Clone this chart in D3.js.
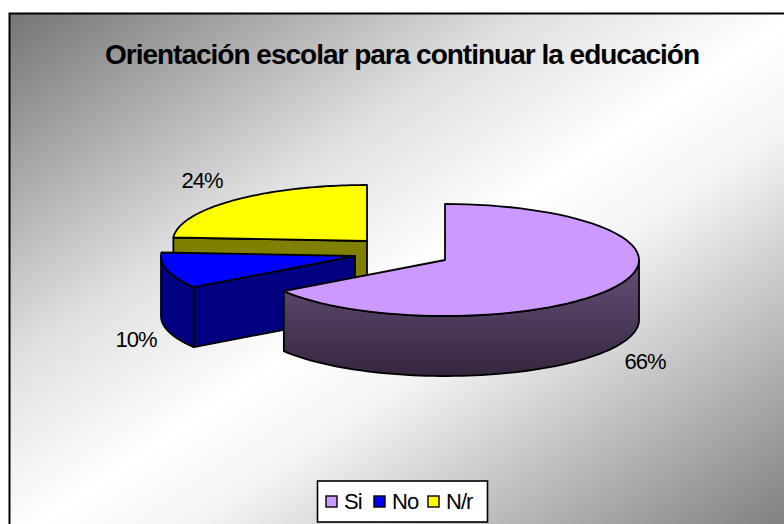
<!DOCTYPE html>
<html><head><meta charset="utf-8"><style>html,body{margin:0;padding:0;background:#fff}svg{display:block}text{font-family:"Liberation Sans",Arial,sans-serif;fill:#000}</style>
<script src="https://cdn.jsdelivr.net/npm/d3@7"></script></head><body><svg id="c" width="784" height="524"></svg>
<script>
const categories=["Si","No","N/r"];
const values=[65.6,10.4,24];
const labels=["66%","10%","24%"];
const topColors=["#CC99FF","#0000FF","#FFFF00"];
const sideColors=["#6A5080","#000080","#808000"];
const title="Orientación escolar para continuar la educación";

const svg=d3.select("#c");
const defs=svg.append("defs");
const bg=defs.append("linearGradient").attr("id","bg").attr("x1",0).attr("y1",0).attr("x2",1).attr("y2",1);
bg.selectAll("stop").data([[0,"#757575"],[.33,"#e0e0e0"],[.5,"#fff"],[.6,"#f4f4f4"],[1,"#787878"]]).join("stop")
  .attr("offset",d=>d[0]).attr("stop-color",d=>d[1]);
const wg=defs.append("linearGradient").attr("id","wall").attr("x1",0).attr("y1",0).attr("x2",0).attr("y2",1);
wg.selectAll("stop").data([[0,"#655079"],[1,"#35263f"]]).join("stop").attr("offset",d=>d[0]).attr("stop-color",d=>d[1]);

svg.append("rect").attr("x",9.5).attr("y",13.5).attr("width",790).attr("height",530)
  .attr("fill","url(#bg)").attr("stroke","#000").attr("stroke-width",2);
svg.append("text").attr("x",402).attr("y",64).attr("text-anchor","middle")
  .style("font-size","28px").style("font-weight","700").style("letter-spacing","-1px").text(title);

const rx=194, ry=56, depth=60;
const centers=[[445,260],[355,256],[367,241]];
const pie=d3.pie().sort(null).value(d=>d)(values);
const ex=d3.scaleLinear().domain([0,1]).range([0,rx]);
const ey=d3.scaleLinear().domain([0,1]).range([0,ry]);
const line=d3.line();
const pt=(c,a,dz=0)=>[c[0]+ex(Math.sin(a)),c[1]-ey(Math.cos(a))+dz];
const arcPts=(c,a0,a1,dz=0)=>d3.range(0,73).map(i=>pt(c,a0+(a1-a0)*i/72,dz));

const order=[2,1,0];
order.forEach(i=>{
  const p=pie[i],c=centers[i],a0=p.startAngle,a1=p.endAngle;
  const g=svg.append("g").attr("stroke","#000").attr("stroke-width",1.8).attr("stroke-linejoin","round");
  if(i!==0){
    g.append("path").attr("fill",sideColors[i])
      .attr("d",line([c,pt(c,a0),pt(c,a0,depth),[c[0],c[1]+depth]])+"Z");
  }
  const w0=Math.max(a0,Math.PI/2),w1=Math.min(a1,Math.PI*1.5);
  if(w1>w0){
    g.append("path").attr("fill",i===0?"url(#wall)":sideColors[i])
      .attr("d",line([...arcPts(c,w0,w1),...arcPts(c,w1,w0,depth)])+"Z");
  }
  g.append("path").attr("fill",topColors[i])
    .attr("d",line([c,...arcPts(c,a0,a1)])+"Z");
});

const labelPos=[[645,369],[136,347],[202,188]];
svg.append("g").selectAll("text").data(labels).join("text")
  .attr("x",(d,i)=>labelPos[i][0]).attr("y",(d,i)=>labelPos[i][1])
  .attr("text-anchor","middle").style("font-size","22px").style("letter-spacing","-1px").text(d=>d);

svg.append("rect").attr("x",317.5).attr("y",481).attr("width",170).attr("height",41).attr("fill","#fff").attr("stroke","#000").attr("stroke-width",1.6);
const swX=[326,374,428],txtX=[344,392,446];
const lg=svg.append("g").selectAll("g").data(categories).join("g");
lg.append("rect").attr("x",(d,i)=>swX[i]).attr("y",496).attr("width",11).attr("height",11)
  .attr("fill",(d,i)=>topColors[i]).attr("stroke","#000").attr("stroke-width",1.4);
lg.append("text").attr("x",(d,i)=>txtX[i]).attr("y",509).style("font-size","22px").style("letter-spacing","-1px").text(d=>d);
</script></body></html>
